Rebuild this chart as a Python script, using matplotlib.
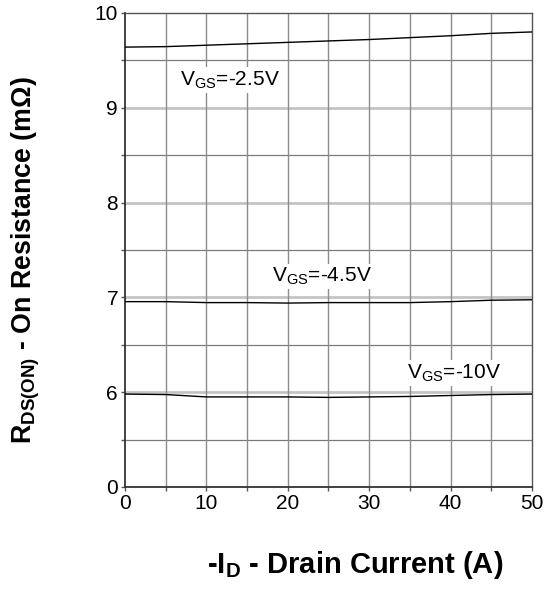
import matplotlib.pyplot as plt
import numpy as np

plt.rcParams['font.family'] = ['Liberation Sans', 'DejaVu Sans']
plt.rcParams['mathtext.fontset'] = 'custom'
plt.rcParams['mathtext.rm'] = 'Liberation Sans'
plt.rcParams['mathtext.bf'] = 'Liberation Sans:bold'

# drain current (A)
current = [0, 5, 10, 15, 20, 25, 30, 35, 40, 45, 50]
# on resistance (mOhm) per gate voltage
r_vgs_2v5 = [9.64, 9.645, 9.66, 9.675, 9.69, 9.705, 9.72, 9.74, 9.76, 9.785, 9.80]
r_vgs_4v5 = [6.955, 6.955, 6.945, 6.945, 6.94, 6.945, 6.945, 6.945, 6.955, 6.97, 6.975]
r_vgs_10v = [5.98, 5.975, 5.95, 5.95, 5.95, 5.945, 5.95, 5.955, 5.965, 5.975, 5.98]

curve_labels = ['V$_{\\mathrm{GS}}$=-2.5V', 'V$_{\\mathrm{GS}}$=-4.5V', 'V$_{\\mathrm{GS}}$=-10V']
label_pos = [(6.8, 9.29), (18.0, 7.22), (34.6, 6.20)]

yticks = [5, 6, 7, 8, 9, 10]
ytick_labels = ['0', '6', '7', '8', '9', '10']

fig = plt.figure(figsize=(5.49, 5.90), dpi=100)
ax = fig.add_axes([0.2277, 0.1746, 0.7413, 0.8034])

# grid: light integer lines, darker half lines
for y in np.arange(5.5, 10, 0.5):
    if y % 1 == 0:
        ax.axhline(y, color='#c4c4c4', lw=2.0, zorder=1)
    else:
        ax.axhline(y, color='#7a7a7a', lw=0.9, zorder=1)
for x in range(5, 50, 5):
    ax.axvline(x, color='#8c8c8c', lw=1.0, zorder=1)

for r in [r_vgs_2v5, r_vgs_4v5, r_vgs_10v]:
    ax.plot(current, r, color='black', lw=1.0, zorder=3)

for txt, (x, y) in zip(curve_labels, label_pos):
    ax.text(x, y, txt, fontsize=15, va='center', ha='left', zorder=4,
            bbox=dict(facecolor='white', edgecolor='none', pad=1.5))

ax.set_xlim(0, 50)
ax.set_ylim(5, 10)
ax.set_xticks([0, 10, 20, 30, 40, 50])
ax.set_xticks(range(0, 51, 5), minor=True)
ax.set_yticks(yticks)
ax.set_yticklabels(ytick_labels)
ax.set_yticks(np.arange(5, 10.01, 0.5), minor=True)
ax.tick_params(axis='both', which='both', direction='out', length=3, width=1,
               color='#555555', labelsize=15, pad=2)

for s in ['left', 'bottom']:
    ax.spines[s].set_color('#333333')
    ax.spines[s].set_linewidth(1.3)
for s in ['top', 'right']:
    ax.spines[s].set_color('#555555')
    ax.spines[s].set_linewidth(1.0)

fig.text(0.647, 0.043, '-I$_{\\mathbf{D}}$ - Drain Current (A)', fontsize=21,
         fontweight='bold', ha='center', va='center')
fig.text(0.047, 0.559, 'R$_{\\mathbf{DS(ON)}}$ - On Resistance (mΩ)', fontsize=19.3,
         fontweight='bold', ha='center', va='center', rotation=90)

fig.savefig('out.png', dpi=100)
